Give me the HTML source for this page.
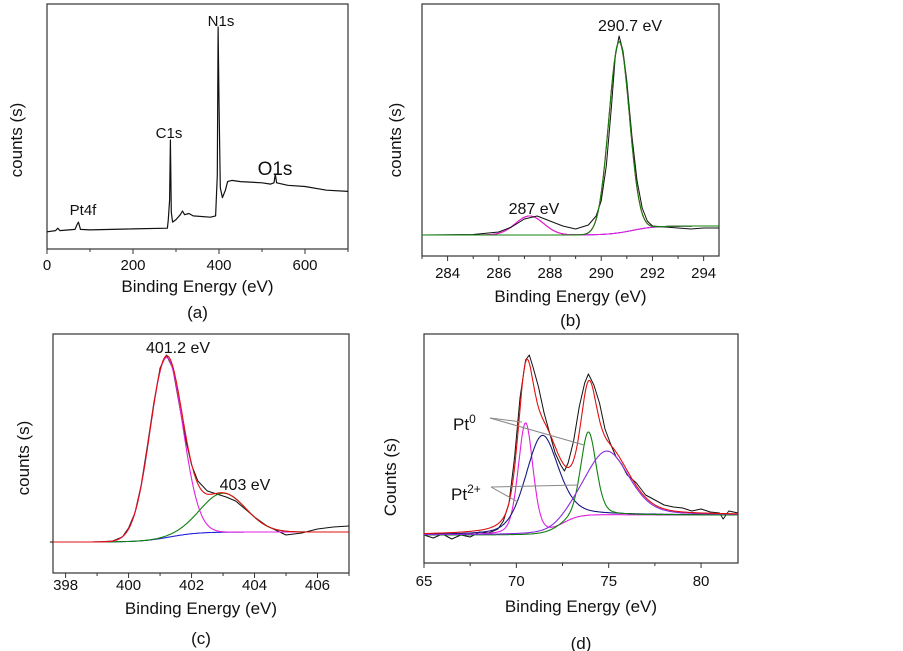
<!DOCTYPE html>
<html><head><meta charset="utf-8"><style>
body{margin:0;background:#fff}
svg{display:block;font-family:"Liberation Sans",sans-serif}
</style></head><body>
<svg id="fig" width="903" height="651" viewBox="0 0 903 651"></svg>
<script>
// ---- data ----
// (a) survey spectrum: energy / intensity
const aE=[0,20,25,30,65,70,73,78,100,200,280,282,285,287,289,292,300,310,315,320,330,340,380,392,396,398,400,403,408,415,420,430,450,500,520,528,531,534,560,600,650,700];
const aI=[7,7.5,8.5,7.5,8,10,11,8,7.8,8.2,8.5,12,20,44.5,15,11,12,14,15.5,14,14.5,13.5,13,13.5,30,90.6,60,25,21,24,27.5,28,27.5,27,26.5,27,30.5,27,26,25.5,24,23.5];
const aTicks=[0,200,400,600];
// (b) C1s
const bE=[283,285,286,286.5,287,287.5,288,288.5,289,289.5,289.8,290,290.2,290.4,290.55,290.7,290.85,291,291.2,291.4,291.6,291.8,292,292.5,293,293.5,294,294.6];
const bI=[21,21.5,24,29,37,40,35,30,27,31,40,55,90,150,200,220,205,175,120,75,48,35,30,29,28,27,28,28];
const bCenters=[290.7,287.2];
const bHeights=[191,19];
const bWidths=[0.4,0.55];
const bBg=[21,30,291.2];
const bTicks=[284,286,288,290,292,294];
// (c) N1s
const cE=[397.5,399,399.5,399.8,400,400.2,400.4,400.6,400.8,401,401.2,401.4,401.6,401.8,402,402.2,402.5,402.8,403.1,403.4,403.7,404,404.4,404.8,405,405.5,406,406.5,407];
const cI=[31,31,32,36,45,60,88,128,170,205,218,205,170,135,108,92,82,79,76,72,64,56,47,41,38,40,44,46,47];
const cCenters=[401.2,403.0];
const cHeights=[180,39];
const cWidths=[0.52,0.72];
const cBg=[31,41,401.3];
const cTicks=[398,400,402,404,406];
// (d) Pt4f
const dE=[65,65.5,66,66.5,67,67.5,68,68.5,69,69.3,69.6,69.9,70.2,70.5,70.7,70.9,71.2,71.5,71.8,72.1,72.4,72.6,72.8,73.1,73.4,73.7,73.9,74.2,74.5,74.8,75.1,75.4,75.7,76,76.5,77,77.5,78,78.5,79,79.5,80,80.5,81,81.2,81.5,82];
const dI=[28,25,29,24,28,26,31,30,34,42,60,105,165,203,208,196,176,150,130,110,98,92,100,122,156,180,189,178,160,134,119,106,99,88,80,68,63,58,56,55,52,54,51,50,44,52,50];
const dCenters=[70.5,71.4,73.9,74.9];
const dHeights=[112,98,84,64];
const dWidths=[0.4,0.9,0.42,1.2];
const dBg=[28,48,72.5];
const dTicks=[65,70,75,80];

const NS="http://www.w3.org/2000/svg";
const svg=document.getElementById('fig');
function mk(tag,attrs,parent){const e=document.createElementNS(NS,tag);for(const k in attrs)e.setAttribute(k,attrs[k]);(parent||svg).appendChild(e);return e;}
function txt(s,x,y,size,anchor,parent){const t=mk('text',{x:x,y:y,'font-size':size,'text-anchor':anchor||'middle',fill:'#111'},parent);t.textContent=s;return t;}

function panel(name,L,T,R,B,x0,x1,y0,y1,ticks,minorStep,tickY,labelY,capY,capText,yl){
  const g=mk('g',{});
  
  
  const sx=v=>L+(v-x0)/(x1-x0)*(R-L);
  const sy=v=>B-(v-y0)/(y1-y0)*(B-T);
  const fr=mk('rect',{x:L,y:T,width:R-L,height:B-T,fill:'none',stroke:'#333','stroke-width':1.2},g);
  
  
  for(let v=Math.ceil(x0/minorStep)*minorStep;v<=x1+1e-9;v+=minorStep){
    const major=ticks.some(t=>Math.abs(t-v)<1e-6);
    mk('line',{x1:sx(v),x2:sx(v),y1:B,y2:B+(major?5:3),stroke:'#333','stroke-width':1},g);
  }
  ticks.forEach(t=>{const e=txt(String(t),sx(t),tickY,15,'middle',g);
    
    });
  const xl=txt('Binding Energy (eV)',(L+R)/2,labelY,17,'middle',g);
  
  
  const cp=txt(capText,(L+R)/2,capY,17,'middle',g);
  
  
  const y=txt(yl[0],0,0,17,'middle',g);
  y.setAttribute('transform','translate('+yl[1]+','+yl[2]+') rotate(-90)');
  
  
  return {g,sx,sy,x0,x1};
}
function line(p,xs,ys,color,name,w){
  const d=xs.map((x,i)=>(i?'L':'M')+p.sx(x).toFixed(1)+','+p.sy(ys[i]).toFixed(1)).join('');
  const e=mk('path',{d:d,fill:'none',stroke:color,'stroke-width':w||1.2,'stroke-linejoin':'round'},p.g);
  
  
  return e;
}
function bgf(bg,x){return bg[0]+(bg[1]-bg[0])/(1+Math.exp(-(x-bg[2])/0.45));}
function pv(c,h,w,x,eta){const dx=x-c;const G=Math.exp(-dx*dx/(2*w*w));const g=w*1.1774;const Lz=1/(1+dx*dx/(g*g));return h*((1-eta)*G+eta*Lz);}
function fitCurve(p,bg,cs,hs,ws,idx,color,name,eta){
  const xs=[],ys=[];
  for(let i=0;i<=400;i++){const x=p.x0+(p.x1-p.x0)*i/400;let v=bgf(bg,x);
    idx.forEach(k=>{v+=pv(cs[k],hs[k],ws[k],x,eta||0);});xs.push(x);ys.push(v);}
  return line(p,xs,ys,color,name,1.1);
}

// ---- panel a ----
const pa=panel('a',47,4,348,249,0,700,0,100,aTicks,100,270,292,318,'(a)',['counts (s)',22,140]);
line(pa,aE,aI,'#111','survey-spectrum',1.2);
[['N1s',221,26,15],['C1s',169,138,15],['O1s',275,175,19],['Pt4f',83,215,15]].forEach(l=>{
  const e=txt(l[0],l[1],l[2],l[3],'middle',pa.g);
  
  });

// ---- panel b ----
const pb=panel('b',422,4,719,256,283,294.6,0,252,bTicks,1,278,302,326,'(b)',['counts (s)',401,140]);
fitCurve(pb,bBg,bCenters,bHeights,bWidths,[],'#2222dd','background-b');
fitCurve(pb,bBg,bCenters,bHeights,bWidths,[0,1],'#e01010','fit-envelope-b');
fitCurve(pb,bBg,bCenters,bHeights,bWidths,[1],'#e020e0','fit-287');
line(pb,bE,bI,'#111','c1s-spectrum',1);
fitCurve(pb,bBg,bCenters,bHeights,bWidths,[0],'#108010','fit-290-7');
[['290.7 eV',630,31],['287 eV',534,214]].forEach(l=>{const e=txt(l[0],l[1],l[2],16,'middle',pb.g);
  
  });

// ---- panel c ----
const pc=panel('c',53,334,349,573,397.6,407,0,239,cTicks,1,590,614,644,'(c)',['counts (s)',29,458]);
fitCurve(pc,cBg,cCenters,cHeights,cWidths,[],'#2222dd','background-c');
line(pc,cE,cI,'#111','n1s-spectrum',1);
fitCurve(pc,cBg,cCenters,cHeights,cWidths,[1],'#108010','fit-403');
fitCurve(pc,cBg,cCenters,cHeights,cWidths,[0],'#e020e0','fit-401-2');
fitCurve(pc,cBg,cCenters,cHeights,cWidths,[0,1],'#e01010','fit-envelope-c');
[['401.2 eV',178,353],['403 eV',245,490]].forEach(l=>{const e=txt(l[0],l[1],l[2],16,'middle',pc.g);
  
  });

// ---- panel d ----
const pd=panel('d',424,334,738,563,65,82,0,229,dTicks,2.5,586,612,649,'(d)',['Counts (s)',396,477]);
line(pd,dE,dI,'#111','pt4f-spectrum',1);
fitCurve(pd,dBg,dCenters,dHeights,dWidths,[0],'#e020e0','fit-pt0-70-5',0.3);
fitCurve(pd,dBg,dCenters,dHeights,dWidths,[1],'#1a1a80','fit-pt2-71-4',0.3);
fitCurve(pd,dBg,dCenters,dHeights,dWidths,[2],'#108010','fit-pt0-73-9',0.3);
fitCurve(pd,dBg,dCenters,dHeights,dWidths,[3],'#8a2be2','fit-pt2-74-9',0.3);
fitCurve(pd,dBg,dCenters,dHeights,dWidths,[0,1,2,3],'#e01010','fit-envelope-d',0.3);
[[490,418,522,422],[490,418,584,445],[491,487,578,485],[491,487,518,502]].forEach(l=>{
  const e=mk('line',{x1:l[0],y1:l[1],x2:l[2],y2:l[3],stroke:'#888','stroke-width':1},pd.g);
  
  });
const p0=mk('text',{x:453,y:430,'font-size':17,fill:'#111'},pd.g);


p0.innerHTML='Pt<tspan dy="-7" font-size="12">0</tspan>';
const p2=mk('text',{x:451,y:500,'font-size':17,fill:'#111'},pd.g);


p2.innerHTML='Pt<tspan dy="-7" font-size="12">2+</tspan>';
</script>
</body></html>
